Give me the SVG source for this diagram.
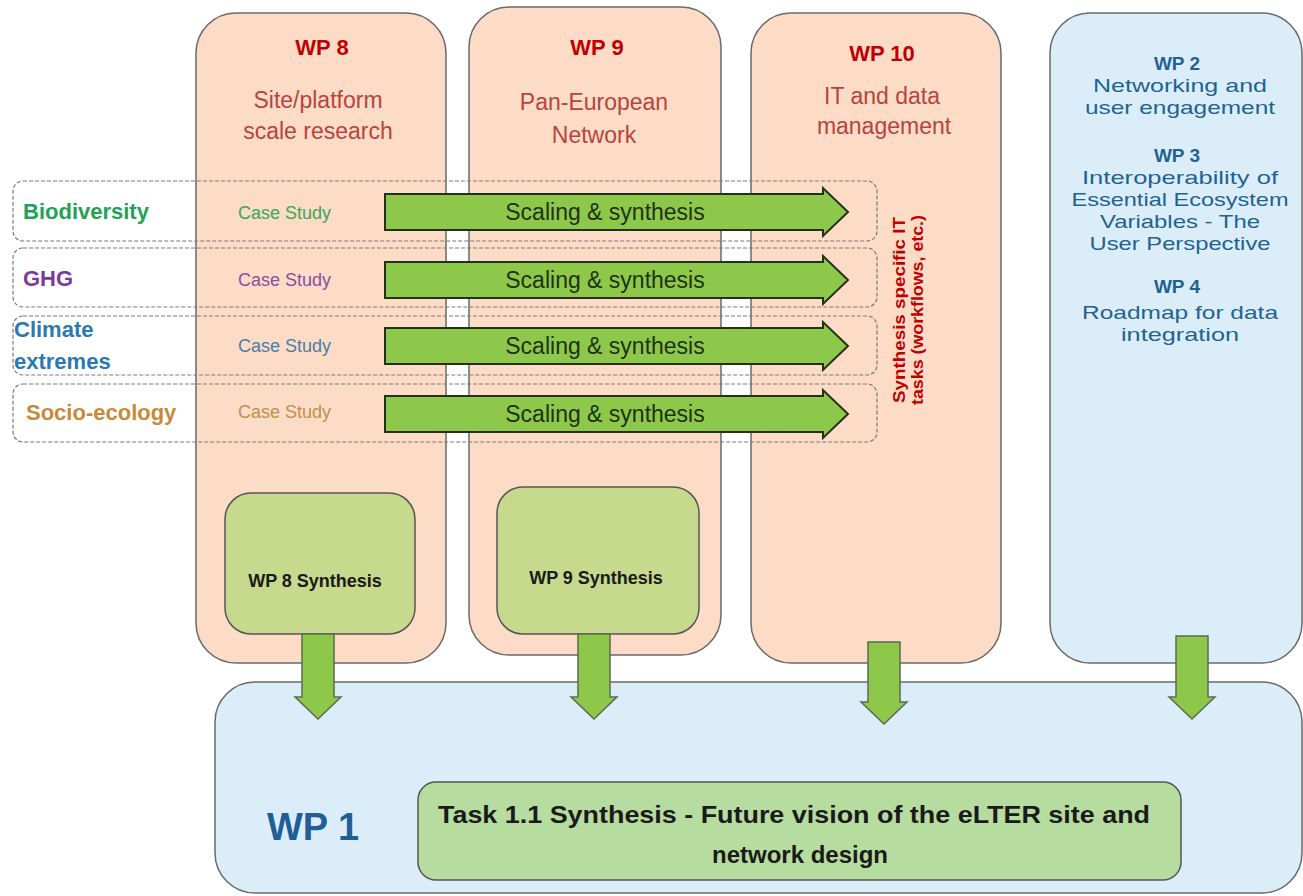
<svg xmlns="http://www.w3.org/2000/svg" width="1303" height="896" viewBox="0 0 1303 896">
<defs>
<style>
text{font-family:"Liberation Sans",Arial,sans-serif;}
.col{fill:#fcdcc6;stroke:#6a6a6a;stroke-width:1.5;}
.blue{fill:#dcedfa;stroke:#6a6a6a;stroke-width:1.5;}
.row{fill:none;stroke:#7a7a7a;stroke-width:1.2;stroke-dasharray:4 2;}
.synth{fill:#c6d98c;stroke:#555;stroke-width:1.5;}
.task{fill:#b7dc9f;stroke:#555;stroke-width:1.5;}
.harrow{fill:#8dc84a;stroke:#23301a;stroke-width:2;}
.varrow{fill:#8dc84a;stroke:#5b6b4f;stroke-width:1.5;}
.hdr{font-weight:bold;font-size:22px;fill:#c00000;text-anchor:middle;}
.sub{font-size:23px;fill:#b8433f;text-anchor:middle;}
.wpb{font-size:19px;fill:#1f6391;text-anchor:middle;}
.wpbh{font-size:19px;font-weight:bold;fill:#1f6391;text-anchor:middle;}
.lab{font-size:22px;font-weight:bold;}
.cs{font-size:18px;}
.sc{font-size:23px;fill:#1d3312;text-anchor:middle;}
.vt{font-size:17px;font-weight:bold;fill:#c00000;text-anchor:middle;}
.st{font-size:18px;font-weight:bold;fill:#1a1a1a;text-anchor:middle;}
</style>
</defs>
<rect width="1303" height="896" fill="#ffffff"/>

<g id="wp8">
<rect class="col" x="196" y="13" width="250" height="650" rx="40"/>
<text class="hdr" x="322" y="55">WP 8</text>
<text class="sub" x="318" y="108">Site/platform</text>
<text class="sub" x="318" y="139">scale research</text>
</g>
<g id="wp9">
<rect class="col" x="469" y="7" width="252" height="648" rx="40"/>
<text class="hdr" x="597" y="55">WP 9</text>
<text class="sub" x="594" y="110">Pan-European</text>
<text class="sub" x="594" y="143">Network</text>
</g>
<g id="wp10">
<rect class="col" x="751" y="13" width="250" height="650" rx="40"/>
<text class="hdr" x="882" y="61">WP 10</text>
<text class="sub" x="882" y="104">IT and data</text>
<text class="sub" x="884" y="134">management</text>
<text class="vt" transform="translate(905,310) rotate(-90)" textLength="186" lengthAdjust="spacingAndGlyphs">Synthesis specific IT</text>
<text class="vt" transform="translate(923,310) rotate(-90)" textLength="190" lengthAdjust="spacingAndGlyphs">tasks (workflows, etc.)</text>
</g>
<g id="wp234">
<rect class="blue" x="1050" y="13" width="252" height="650" rx="40"/>
<text class="wpbh" x="1177" y="70">WP 2</text>
<text class="wpb" x="1180" y="92" textLength="174" lengthAdjust="spacingAndGlyphs">Networking and</text>
<text class="wpb" x="1180" y="114" textLength="190" lengthAdjust="spacingAndGlyphs">user engagement</text>
<text class="wpbh" x="1177" y="162">WP 3</text>
<text class="wpb" x="1180" y="184" textLength="196" lengthAdjust="spacingAndGlyphs">Interoperability of</text>
<text class="wpb" x="1180" y="206" textLength="217" lengthAdjust="spacingAndGlyphs">Essential Ecosystem</text>
<text class="wpb" x="1180" y="228" textLength="160" lengthAdjust="spacingAndGlyphs">Variables - The</text>
<text class="wpb" x="1180" y="250" textLength="181" lengthAdjust="spacingAndGlyphs">User Perspective</text>
<text class="wpbh" x="1177" y="293">WP 4</text>
<text class="wpb" x="1180" y="319" textLength="196" lengthAdjust="spacingAndGlyphs">Roadmap for data</text>
<text class="wpb" x="1180" y="341" textLength="118" lengthAdjust="spacingAndGlyphs">integration</text>
</g>

<g id="wp1">
<rect class="blue" x="215" y="682" width="1087" height="211" rx="40"/>
<text x="313" y="840" font-size="38" font-weight="bold" fill="#1f5f96" text-anchor="middle">WP 1</text>
</g>
<g id="task11">
<rect class="task" x="418" y="782" width="763" height="98" rx="18"/>
<text x="794" y="823" font-size="24" font-weight="bold" fill="#1a1a1a" text-anchor="middle" textLength="712" lengthAdjust="spacingAndGlyphs">Task 1.1 Synthesis - Future vision of the eLTER site and</text>
<text x="800" y="863" font-size="24" font-weight="bold" fill="#1a1a1a" text-anchor="middle">network design</text>
</g>

<g id="wp8synth">
<rect class="synth" x="225" y="493" width="190" height="141" rx="26"/>
<text class="st" x="315" y="587">WP 8 Synthesis</text>
</g>
<g id="wp9synth">
<rect class="synth" x="497" y="487" width="202" height="147" rx="26"/>
<text class="st" x="596" y="584">WP 9 Synthesis</text>
</g>

<g id="rows">
<g id="row-biodiversity">
<rect class="row" x="13" y="181" width="864" height="60" rx="10"/>
<text class="lab" x="23" y="219" fill="#22a257">Biodiversity</text>
<text class="cs" x="238" y="219" fill="#3ea456">Case Study</text>
</g>
<g id="row-ghg">
<rect class="row" x="13" y="248" width="864" height="59" rx="10"/>
<text class="lab" x="23" y="286" fill="#7a3c98">GHG</text>
<text class="cs" x="238" y="286" fill="#8a4f9e">Case Study</text>
</g>
<g id="row-climate">
<rect class="row" x="13" y="316" width="864" height="59" rx="10"/>
<text class="lab" x="14" y="337" fill="#2a78b4">Climate</text>
<text class="lab" x="14" y="369" fill="#2a78b4">extremes</text>
<text class="cs" x="238" y="352" fill="#4a7ea8">Case Study</text>
</g>
<g id="row-socio">
<rect class="row" x="13" y="384" width="864" height="58" rx="10"/>
<text class="lab" x="26" y="420" fill="#c88a3a">Socio-ecology</text>
<text class="cs" x="238" y="418" fill="#c0904c">Case Study</text>
</g>
</g>

<g id="connectors">
<polygon class="harrow" points="385,194 823,194 823,188 848,212 823,236 823,230 385,230"/>
<text class="sc" x="605" y="220">Scaling &amp; synthesis</text>
<polygon class="harrow" points="385,262 823,262 823,256 848,280 823,304 823,298 385,298"/>
<text class="sc" x="605" y="288">Scaling &amp; synthesis</text>
<polygon class="harrow" points="385,328 823,328 823,322 848,346 823,370 823,364 385,364"/>
<text class="sc" x="605" y="354">Scaling &amp; synthesis</text>
<polygon class="harrow" points="385,396 823,396 823,390 848,414 823,438 823,432 385,432"/>
<text class="sc" x="605" y="422">Scaling &amp; synthesis</text>

<polygon class="varrow" points="302,634 334,634 334,697 341,697 318,719 295,697 302,697"/>
<polygon class="varrow" points="578,634 610,634 610,697 617,697 594,719 571,697 578,697"/>
<polygon class="varrow" points="868,642 900,642 900,702 907,702 884,724 861,702 868,702"/>
<polygon class="varrow" points="1176,636 1208,636 1208,697 1215,697 1192,719 1169,697 1176,697"/>
</g>
</svg>
